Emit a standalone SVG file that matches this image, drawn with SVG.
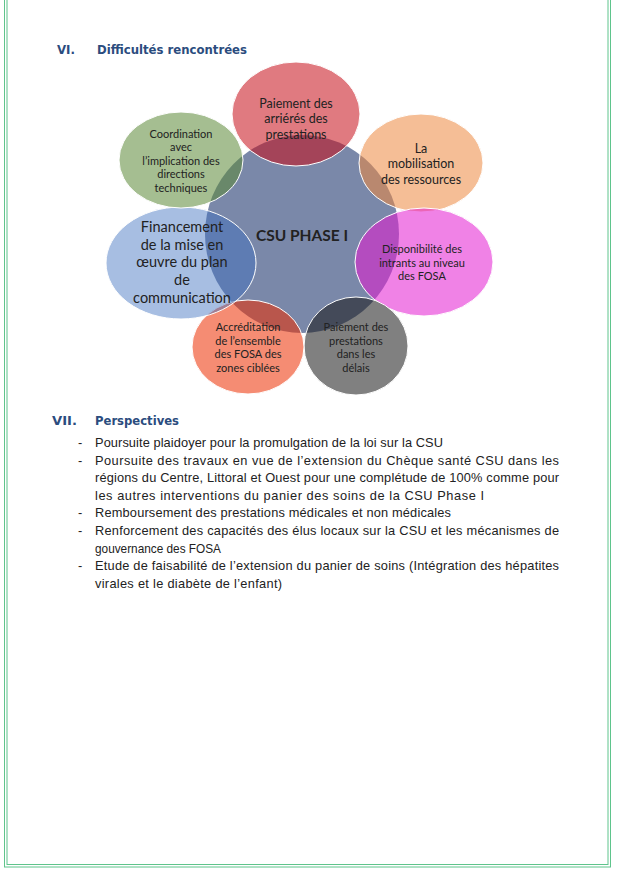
<svg xmlns="http://www.w3.org/2000/svg" width="637" height="888" viewBox="0 0 637 888">
<style>
.frame{fill:none;stroke:#5fc48c;stroke-width:1}
.h{font-family:"DejaVu Sans","Liberation Sans",sans-serif;font-weight:bold;font-size:11.5px;fill:#2b4c7e}
.b{font-family:"Liberation Sans",Arial,sans-serif;font-size:12.8px;fill:#222}
.l{font-family:Lato,"Liberation Sans",sans-serif;fill:#222;text-anchor:middle}
.s11{font-size:11px}
.s12{font-size:12.5px}
.s14{font-size:14.5px}
.sat{stroke:#fff;stroke-width:1}
</style>
<rect width="637" height="888" fill="#fff"/>
<g id="page-frame">
<rect class="frame" x="4.5" y="-20" width="606" height="887" stroke-width="1.4"/>
<rect class="frame" x="7" y="-20" width="601" height="884.5" stroke="#8fdcb2"/>
</g>
<text class="h" x="57" y="54" textLength="18" lengthAdjust="spacingAndGlyphs">VI.</text>
<text class="h" x="97" y="54" textLength="150" lengthAdjust="spacingAndGlyphs">Difficultés rencontrées</text>
<g id="diagram">
<g id="core">
<ellipse cx="302" cy="234" rx="97" ry="99" fill="#7a88a9"/>
<text class="l" x="302" y="240.5" font-size="15.5" font-weight="bold" fill="#161a26">CSU PHASE I</text>
</g>
<g id="n-paiement-arrieres">
<ellipse class="sat" cx="296" cy="114" rx="64" ry="52" fill="#c70d18" fill-opacity="0.55"/>
<text class="l s12" x="296"><tspan x="296" y="107.5">Paiement des</tspan><tspan x="296" y="123">arriérés des</tspan><tspan x="296" y="138.5">prestations</tspan></text>
</g>
<g id="n-mobilisation">
<ellipse class="sat" cx="421" cy="163" rx="62" ry="49" fill="#ed8940" fill-opacity="0.55"/>
<text class="l s12" x="421"><tspan x="421" y="152.5">La</tspan><tspan x="421" y="168">mobilisation</tspan><tspan x="421" y="183.5">des ressources</tspan></text>
</g>
<g id="n-disponibilite">
<ellipse class="sat" cx="424" cy="262" rx="69" ry="54" fill="#e41cd1" fill-opacity="0.55"/>
<text class="l s11" x="422"><tspan x="422" y="253">Disponibilité des</tspan><tspan x="422" y="266.5">intrants au niveau</tspan><tspan x="422" y="280">des FOSA</tspan></text>
</g>
<g id="n-paiement-delais">
<ellipse class="sat" cx="356" cy="346" rx="52" ry="49" fill="#181818" fill-opacity="0.55"/>
<text class="l s11" x="356"><tspan x="356" y="331">Paiement des</tspan><tspan x="356" y="344.5">prestations</tspan><tspan x="356" y="358">dans les</tspan><tspan x="356" y="371.5">délais</tspan></text>
</g>
<g id="n-accreditation">
<ellipse class="sat" cx="248" cy="347" rx="56" ry="47" fill="#ed2e00" fill-opacity="0.55"/>
<text class="l s11" x="248"><tspan x="248" y="331">Accréditation</tspan><tspan x="248" y="344.5">de l’ensemble</tspan><tspan x="248" y="358">des FOSA des</tspan><tspan x="248" y="371.5">zones ciblées</tspan></text>
</g>
<g id="n-financement">
<ellipse class="sat" cx="181" cy="263" rx="75" ry="56" fill="#3c6ebe" fill-opacity="0.45"/>
<text class="l s14" x="182"><tspan x="182" y="232">Financement</tspan><tspan x="182" y="249.7">de la mise en</tspan><tspan x="182" y="267.4">œuvre du plan</tspan><tspan x="182" y="285.1">de</tspan><tspan x="182" y="302.8">communication</tspan></text>
</g>
<g id="n-coordination">
<ellipse class="sat" cx="181" cy="160" rx="62" ry="48" fill="#5b8937" fill-opacity="0.55"/>
<text class="l s11" x="181"><tspan x="181" y="137.8">Coordination</tspan><tspan x="181" y="151.3">avec</tspan><tspan x="181" y="164.8">l’implication des</tspan><tspan x="181" y="178.3">directions</tspan><tspan x="181" y="191.8">techniques</tspan></text>
</g>
<g id="connectors"/>
</g>
<text class="h" x="52" y="425" textLength="25" lengthAdjust="spacingAndGlyphs">VII.</text>
<text class="h" x="95" y="425" textLength="84" lengthAdjust="spacingAndGlyphs">Perspectives</text>
<g id="perspectives">
<text class="b" x="78" y="447">-</text>
<text class="b" x="78" y="464.6">-</text>
<text class="b" x="78" y="517.4">-</text>
<text class="b" x="78" y="535">-</text>
<text class="b" x="78" y="570.2">-</text>
<text class="b" x="95" y="447" textLength="348">Poursuite plaidoyer pour la promulgation de la loi sur la CSU</text>
<text class="b" x="95" y="464.6" textLength="464">Poursuite des travaux en vue de l’extension du Chèque santé CSU dans les</text>
<text class="b" x="95" y="482.2" textLength="464">régions du Centre, Littoral et Ouest pour une complétude de 100% comme pour</text>
<text class="b" x="95" y="499.8" textLength="389">les autres interventions du panier des soins de la CSU Phase I</text>
<text class="b" x="95" y="517.4" textLength="356">Remboursement des prestations médicales et non médicales</text>
<text class="b" x="95" y="535" textLength="464">Renforcement des capacités des élus locaux sur la CSU et les mécanismes de</text>
<text class="b" x="95" y="552.6" textLength="126" lengthAdjust="spacingAndGlyphs">gouvernance des FOSA</text>
<text class="b" x="95" y="570.2" textLength="464">Etude de faisabilité de l’extension du panier de soins (Intégration des hépatites</text>
<text class="b" x="95" y="587.8" textLength="187">virales et le diabète de l’enfant)</text>
</g>
</svg>
